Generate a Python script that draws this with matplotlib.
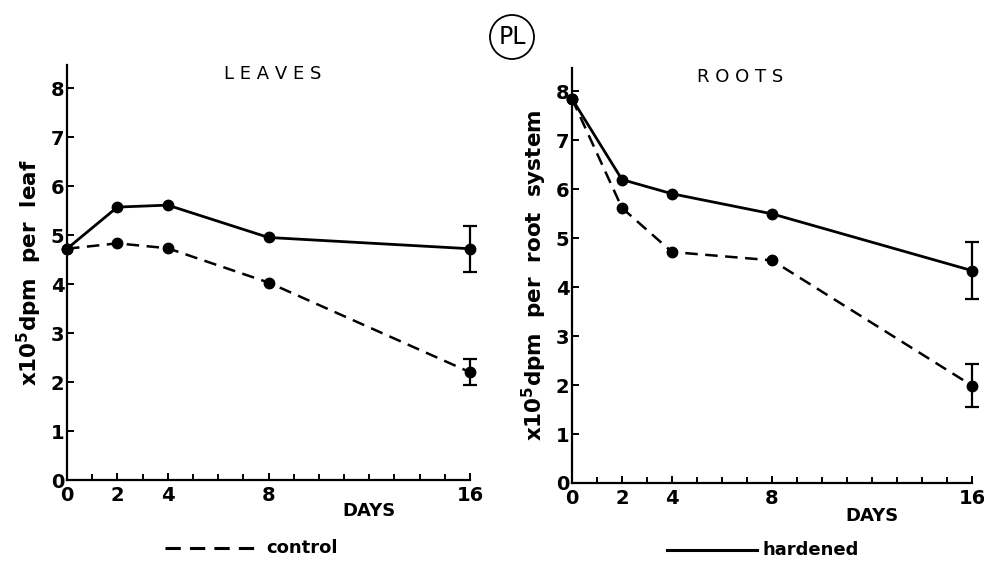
import matplotlib.pyplot as plt
import numpy as np
from matplotlib.patches import Ellipse
from matplotlib.lines import Line2D

days = np.array([0, 2, 4, 8, 16])

# leaves, x10^5 dpm per leaf
leaf_hard = np.array([4.72, 5.57, 5.61, 4.95, 4.72])
leaf_ctrl = np.array([4.72, 4.83, 4.73, 4.03, 2.20])
leaf_hard_err = 0.47   # only day 16
leaf_ctrl_err = 0.26

# roots, x10^5 dpm per root system
root_hard = np.array([7.85, 6.20, 5.91, 5.50, 4.34])
root_ctrl = np.array([7.85, 5.62, 4.72, 4.55, 1.99])
root_hard_err = 0.59
root_ctrl_err = 0.44

plt.rcParams['font.family'] = 'DejaVu Sans'
fig = plt.figure(figsize=(9.84, 5.63), dpi=100)

ax1 = fig.add_axes([67/984, 83/563, 403/984, 415/563])
ax2 = fig.add_axes([572/984, 80/563, 400/984, 415/563])

dash = (0, (5, 3))
def panel(ax, hard, ctrl, herr, cerr, ytop, title, tx, ylabel, dy):
    ax.plot(days, hard, '-', color='black', lw=2.0, marker='o', ms=7.5, clip_on=False)
    ax.plot(days, ctrl, color='black', lw=1.8, ls=dash, marker='o', ms=7.5, clip_on=False)
    ax.errorbar(days[-1:], hard[-1:], yerr=herr, fmt='none', ecolor='black',
                elinewidth=1.6, capsize=5, capthick=1.6, clip_on=False)
    ax.errorbar(days[-1:], ctrl[-1:], yerr=cerr, fmt='none', ecolor='black',
                elinewidth=1.6, capsize=5, capthick=1.6, clip_on=False)
    ax.set_xlim(0, 16)
    ax.set_ylim(0, ytop)
    ax.spines['top'].set_visible(False)
    ax.spines['right'].set_visible(False)
    for s in ['left', 'bottom']:
        ax.spines[s].set_linewidth(1.6)
    ax.set_xticks(days)
    ax.set_xticks(np.arange(0, 17), minor=True)
    ax.set_yticks(np.arange(0, 9))
    ax.tick_params(direction='in', length=5, width=1.4, labelsize=14, pad=4)
    ax.tick_params(axis='y', pad=2)
    ax.tick_params(which='minor', direction='in', length=4, width=1.4)
    for lab in ax.get_xticklabels() + ax.get_yticklabels():
        lab.set_fontweight('bold')
    ax.text(tx, 1.0, title, transform=ax.transAxes, ha='center', va='top',
            fontsize=13)
    ax.text(0.75, dy, 'DAYS', transform=ax.transAxes, ha='center', va='center',
            fontsize=13, fontweight='bold')
    ax.set_ylabel(ylabel, fontsize=15.5, fontweight='bold', labelpad=5)

panel(ax1, leaf_hard, leaf_ctrl, leaf_hard_err, leaf_ctrl_err, 8.47,
      'L E A V E S', 0.51, r'x10$^{\mathbf{5}}$dpm  per  leaf', -0.075)
panel(ax2, root_hard, root_ctrl, root_hard_err, root_ctrl_err, 8.48,
      'R O O T S', 0.42, r'x10$^{\mathbf{5}}$dpm  per  root  system', -0.08)

# circled PL
fig.patches.append(Ellipse((512/984, 1 - 37/563), 44/984, 44/563,
                           transform=fig.transFigure, fill=False, lw=1.3,
                           color='black'))
fig.text(512/984, 1 - 37/563, 'PL', ha='center', va='center', fontsize=17)

# legend keys
fig.lines.append(Line2D([165/984, 262/984], [1 - 548/563]*2, transform=fig.transFigure,
                        color='black', lw=2.2, ls=dash))
fig.text(266/984, 1 - 548/563, 'control', ha='left', va='center', fontsize=13,
         fontweight='bold')
fig.lines.append(Line2D([667/984, 757/984], [1 - 550/563]*2, transform=fig.transFigure,
                        color='black', lw=2.2))
fig.text(762/984, 1 - 550/563, 'hardened', ha='left', va='center', fontsize=13,
         fontweight='bold')

plt.savefig('out.png', dpi=100)
